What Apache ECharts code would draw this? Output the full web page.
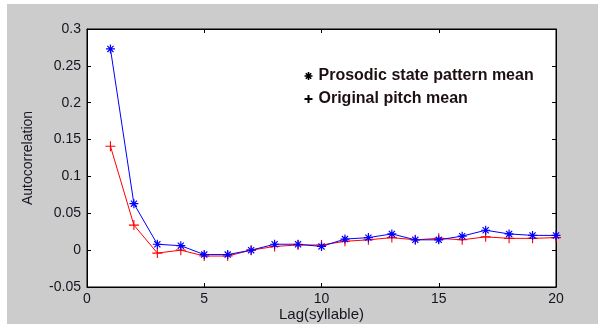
<!DOCTYPE html>
<html>
<head>
<meta charset="utf-8">
<script src="https://cdn.jsdelivr.net/npm/echarts@6/dist/echarts.min.js"></script>
<style>
  html, body { margin: 0; padding: 0; background: #fff; }
  #chart { width: 598px; height: 324px; }
</style>
</head>
<body>
<div id="chart"></div>
<script>
const LAGS = [1, 2, 3, 4, 5, 6, 7, 8, 9, 10, 11, 12, 13, 14, 15, 16, 17, 18, 19, 20];
const PROSODIC = [0.273, 0.063, 0.008, 0.006, -0.006, -0.006, 0.0, 0.008, 0.008, 0.005,
  0.015, 0.017, 0.022, 0.014, 0.014, 0.019, 0.027, 0.022, 0.020, 0.020];
const PITCH = [0.141, 0.034, -0.004, 0.0, -0.008, -0.008, 0.0, 0.005, 0.007, 0.007,
  0.012, 0.014, 0.017, 0.014, 0.016, 0.014, 0.018, 0.016, 0.016, 0.017];
const X_TICKS = { min: 0, max: 20, interval: 5 };
const Y_TICKS = { min: -0.05, max: 0.3, interval: 0.05 };

const STAR = 'path://M0,5L10,5M5,0L5,10M1.6,1.6L8.4,8.4M8.4,1.6L1.6,8.4';
const PLUS = 'path://M0,5L10,5M5,0L5,10';
const FONT = 'Liberation Sans, Arial, sans-serif';
const INK = '#15151f';

const pairs = ys => LAGS.map((x, i) => [x, ys[i]]);

const chart = echarts.init(document.getElementById('chart'));

const tickStyle = { show: true, inside: true, length: 4, lineStyle: { color: '#000', width: 1 } };
const hidden = { show: false };

chart.setOption({
  animation: false,
  backgroundColor: '#fff',
  graphic: [{
    type: 'rect', z: -10, silent: true,
    shape: { x: 7, y: 4, width: 598, height: 324 },
    style: { fill: '#cccccc' },
  }],
  grid: {
    left: 87, top: 29, width: 469, height: 258,
    outerBoundsMode: 'none', containLabel: false,
    show: true, backgroundColor: '#fff', borderColor: '#000', borderWidth: 1,
  },
  legend: {
    left: 297, top: 63, orient: 'vertical',
    itemWidth: 8, itemHeight: 8, itemGap: 7,
    selectedMode: false,
    textStyle: { fontFamily: FONT, fontSize: 16, fontWeight: 'bold', color: '#1e1012', lineHeight: 14, padding: [0, 0, 0, 1] },
    data: [
      { name: 'Prosodic state pattern mean', icon: STAR, itemStyle: { color: 'none', borderColor: '#000', borderWidth: 1.6 } },
      { name: 'Original pitch mean', icon: PLUS, itemStyle: { color: 'none', borderColor: '#000', borderWidth: 2 } },
    ],
  },
  xAxis: [{
    type: 'value', ...X_TICKS,
    name: 'Lag(syllable)', nameLocation: 'middle', nameGap: 28, nameMoveOverlap: false,
    nameTextStyle: { fontFamily: FONT, fontSize: 15, color: INK, verticalAlign: 'middle', padding: [8, 0, 0, 0] },
    axisLine: { show: true, onZero: false, lineStyle: { color: '#000' } },
    axisTick: tickStyle,
    axisLabel: { fontFamily: FONT, fontSize: 14, color: INK, margin: 5 },
    splitLine: hidden,
  }, {
    type: 'value', position: 'top', ...X_TICKS,
    axisLine: { show: true, onZero: false, lineStyle: { color: '#000' } },
    axisTick: tickStyle, axisLabel: hidden, splitLine: hidden,
  }],
  yAxis: [{
    type: 'value', ...Y_TICKS,
    name: 'Autocorrelation', nameLocation: 'middle', nameGap: 52,
    nameTextStyle: { fontFamily: FONT, fontSize: 14, color: INK },
    axisLine: { show: true, onZero: false, lineStyle: { color: '#000' } },
    axisTick: tickStyle,
    axisLabel: { fontFamily: FONT, fontSize: 14, color: INK, margin: 6 },
    splitLine: hidden,
  }, {
    type: 'value', position: 'right', ...Y_TICKS,
    axisLine: { show: true, onZero: false, lineStyle: { color: '#000' } },
    axisTick: tickStyle, axisLabel: hidden, splitLine: hidden,
  }],
  series: [{
    name: 'Original pitch mean',
    type: 'line',
    data: pairs(PITCH),
    symbol: PLUS, symbolSize: 10, showAllSymbol: true,
    lineStyle: { color: '#ff0000', width: 1 },
    itemStyle: { color: 'none', borderColor: '#ff0000', borderWidth: 1.1 },
  }, {
    name: 'Prosodic state pattern mean',
    type: 'line',
    data: pairs(PROSODIC),
    symbol: STAR, symbolSize: 9, showAllSymbol: true,
    lineStyle: { color: '#0000ff', width: 1 },
    itemStyle: { color: 'none', borderColor: '#0000ff', borderWidth: 1.2 },
  }],
});
</script>
</body>
</html>
